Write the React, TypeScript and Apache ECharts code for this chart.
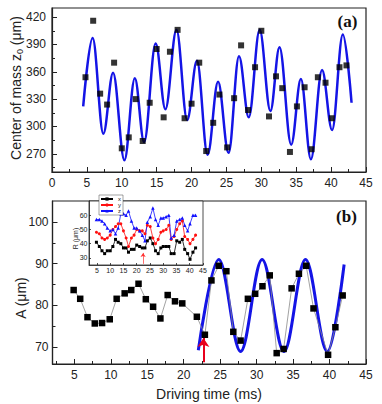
import React, { useEffect, useRef } from "react";
import * as echarts from "echarts";

// Panel (a): centre of mass z0 (µm) vs driving time (ms)
const topT = [4.8, 5.9, 6.9, 7.9, 8.9, 10.0, 11.0, 12.0, 13.0, 14.0, 15.0, 16.0, 16.9, 18.0, 19.0, 20.0, 21.1, 22.1, 23.1, 24.0, 25.1, 26.1, 27.1, 28.1, 29.1, 30.0, 31.1, 32.1, 33.0, 34.1, 35.1, 36.2, 37.2, 38.1, 39.2, 40.1, 41.2, 42.2];
const topZ = [354, 416, 336, 324, 370, 276, 288, 330, 284, 326, 385, 310, 382, 406, 309, 325, 370, 273, 304, 335, 277, 331, 389, 318, 365, 405, 311, 355, 342, 272, 322, 343, 275, 354, 348, 309, 365, 367];
// fitted curve (a): extremes
const fitTopT = [4.47, 5.82, 7.36, 8.75, 10.38, 11.87, 13.2, 14.86, 16.25, 17.84, 19.37, 20.77, 22.3, 23.8, 25.3, 26.8, 28.2, 29.76, 31.3, 32.6, 34.28, 35.67, 37.1, 38.7, 40.14, 41.68, 42.93];
const fitTopZ = [322, 397, 292, 359, 263, 353, 283, 391, 319, 406, 307, 372, 269, 349, 271, 377, 310, 406, 317, 387, 280, 352, 264, 362, 296, 401, 326];

// Panel (b): amplitude A (µm)
const botT = [4.9, 5.8, 6.8, 7.8, 8.8, 9.85, 10.8, 11.9, 12.8, 13.8, 14.8, 15.8, 16.8, 17.8, 18.8, 19.8, 21.8, 22.9, 23.8, 24.8, 25.85, 26.8, 27.8, 28.8, 29.8, 30.8, 31.8, 32.75, 33.7, 34.8, 35.8, 36.8, 37.8, 39.8, 40.8, 41.8];
const botA = [83.7, 81.6, 77.2, 75.7, 75.8, 76.7, 81.6, 82.9, 83.7, 85.2, 81.5, 79.7, 76.9, 82.5, 81.0, 80.5, 77.3, 73.0, 86.0, 89.5, 88.2, 73.7, 71.6, 81.6, 82.8, 84.6, 87.2, 68.6, 69.6, 84.1, 87.6, 89.5, 79.3, 68.2, 74.8, 82.4];
// fitted curve (b): extremes
const fitBotT = [22.0, 24.8, 27.8, 30.75, 33.75, 36.7, 39.7, 42.0];
const fitBotA = [69.3, 91.0, 69.0, 91.0, 69.0, 91.0, 69.0, 89.8];

// Inset: R (µm) for x, y, z
const inT = [4.8, 5.9, 6.9, 7.9, 8.9, 10.0, 11.0, 12.0, 13.0, 14.0, 15.0, 16.0, 16.9, 18.0, 19.0, 20.0, 21.1, 22.1, 23.1, 24.0, 25.1, 26.1, 27.1, 28.1, 29.1, 30.0, 31.1, 32.1, 33.0, 34.1, 35.1, 36.2, 37.2, 38.1, 39.2, 40.1, 41.2, 42.2];
const inX = [41, 38, 35, 33, 35, 35, 38, 43, 41, 40, 37, 37, 34, 36, 36, 39, 38, 37, 37, 42, 44, 40, 35, 33, 37, 38, 38, 38, 33, 33, 42, 41, 43, 36, 33, 29, 34, 37];
const inY = [48, 47, 44, 43, 44, 46, 50, 52, 54, 54, 49, 44, 38, 44, 46, 50, 49, 49, 47, 53, 52, 44, 40, 43, 48, 49, 50, 53, 43, 45, 50, 54, 56, 45, 43, 40, 43, 46];
const inZ = [57, 57, 56, 54, 51, 49, 50, 47, 51, 61, 61, 60, 63, 56, 51, 51, 49, 46, 42, 55, 59, 65, 57, 53, 58, 58, 59, 60, 44, 46, 56, 57, 58, 53, 49, 54, 60, 60];

// tick labels
const topYMajor = [270, 300, 330, 360, 390, 420];
const topYMinor = [255, 285, 315, 345, 375, 405];
const botXMajor = [5, 10, 15, 20, 25, 30, 35, 40, 45];
const botXMinor = [2.5, 7.5, 12.5, 17.5, 22.5, 27.5, 32.5, 37.5, 42.5];
const botYMajor = [70, 80, 90, 100];
const botYMinor = [75, 85, 95];
const inYMajor = [30, 40, 50, 60];

const zip = (a: number[], b: number[]) => a.map((v, i) => [v, b[i]]);

const FONT = "'Liberation Sans', Arial, sans-serif";
const AX = "#222";

export default function App() {
  const ref = useRef<HTMLDivElement>(null);
  useEffect(() => {
    if (!ref.current) return;
    const chart = echarts.init(ref.current, undefined, { renderer: "svg" });
    const axisLine = { show: true, onZero: false, lineStyle: { color: AX, width: 1.2 } };
    const lbl = { color: "#222", fontSize: 12, fontFamily: FONT };
    chart.setOption({
      animation: false,
      backgroundColor: "#fff",
      grid: [
        { left: 52, top: 8, width: 314, height: 164, show: true, borderColor: AX, borderWidth: 1.2 },
        { left: 52.5, top: 201, width: 313.5, height: 163, show: true, borderColor: AX, borderWidth: 1.2 },
        { left: 89, top: 201, width: 114, height: 64, show: true, borderColor: AX, borderWidth: 0.8, backgroundColor: "#fff" },
      ],
      xAxis: [
        {
          gridIndex: 0, type: "value", min: 0, max: 45, interval: 5, position: "bottom",
          axisLine, splitLine: { show: false },
          axisTick: { inside: true, length: 5, lineStyle: { color: AX } },
          minorTick: { show: true, splitNumber: 2, length: 3, lineStyle: { color: AX } },
          axisLabel: { ...lbl, margin: 5 },
        },
        {
          gridIndex: 1, type: "value", min: 2, max: 45, position: "bottom",
          axisLine, splitLine: { show: false },
          axisTick: { inside: true, length: 5, customValues: botXMajor, lineStyle: { color: AX } },
          axisLabel: { ...lbl, margin: 5, customValues: botXMajor },
        },
        {
          gridIndex: 1, type: "value", min: 2, max: 45, position: "bottom",
          axisLine: { show: false }, splitLine: { show: false },
          axisTick: { inside: true, length: 3, customValues: botXMinor, lineStyle: { color: AX } },
          axisLabel: { show: false },
        },
        {
          gridIndex: 2, type: "value", min: 2, max: 45, position: "bottom",
          axisLine: { show: true, onZero: false, lineStyle: { color: AX, width: 0.8 } }, splitLine: { show: false },
          axisTick: { inside: true, length: 2, customValues: botXMajor, lineStyle: { color: AX, width: 0.8 } },
          axisLabel: { color: "#222", fontSize: 7, fontFamily: FONT, margin: 2, customValues: botXMajor },
        },
      ],
      yAxis: [
        {
          gridIndex: 0, type: "value", min: 250, max: 430, position: "left",
          axisLine, splitLine: { show: false },
          axisTick: { inside: true, length: 5, customValues: topYMajor, lineStyle: { color: AX } },
          axisLabel: { ...lbl, margin: 6, customValues: topYMajor },
        },
        {
          gridIndex: 0, type: "value", min: 250, max: 430, position: "left",
          axisLine: { show: false }, splitLine: { show: false },
          axisTick: { inside: true, length: 3, customValues: topYMinor, lineStyle: { color: AX } },
          axisLabel: { show: false },
        },
        {
          gridIndex: 1, type: "value", min: 66, max: 105, position: "left",
          axisLine, splitLine: { show: false },
          axisTick: { inside: true, length: 5, customValues: botYMajor, lineStyle: { color: AX } },
          axisLabel: { ...lbl, margin: 4, customValues: botYMajor },
        },
        {
          gridIndex: 1, type: "value", min: 66, max: 105, position: "left",
          axisLine: { show: false }, splitLine: { show: false },
          axisTick: { inside: true, length: 3, customValues: botYMinor, lineStyle: { color: AX } },
          axisLabel: { show: false },
        },
        {
          gridIndex: 2, type: "value", min: 25, max: 70, position: "left",
          axisLine: { show: true, onZero: false, lineStyle: { color: AX, width: 0.8 } }, splitLine: { show: false },
          axisTick: { inside: true, length: 2, customValues: inYMajor, lineStyle: { color: AX, width: 0.8 } },
          axisLabel: { color: "#222", fontSize: 7, fontFamily: FONT, margin: 1.5, customValues: inYMajor },
        },
      ],
      legend: {
        data: ["x", "y", "z"],
        orient: "vertical",
        left: 99,
        top: 195,
        padding: [1, 2, 1, 1],
        itemGap: 0,
        itemWidth: 12,
        itemHeight: 4,
        backgroundColor: "#fff",
        borderColor: "#444",
        borderWidth: 0.5,
        textStyle: { fontSize: 6, fontFamily: FONT, color: "#222" },
      },
      series: [
        {
          type: "line", xAxisIndex: 0, yAxisIndex: 0, data: zip(fitTopT, fitTopZ),
          showSymbol: false, smooth: 0.36, smoothMonotone: "x",
          lineStyle: { color: "#1414e6", width: 2.5 }, z: 2,
        },
        {
          type: "scatter", xAxisIndex: 0, yAxisIndex: 0, data: zip(topT, topZ),
          symbol: "rect", symbolSize: 6, itemStyle: { color: "#000" }, z: 3,
        },
        {
          type: "line", xAxisIndex: 1, yAxisIndex: 2, data: zip(fitBotT, fitBotA),
          showSymbol: false, smooth: 0.36, smoothMonotone: "x",
          lineStyle: { color: "#1414e6", width: 3 }, z: 2,
        },
        {
          type: "line", xAxisIndex: 1, yAxisIndex: 2, data: zip(botT, botA),
          symbol: "rect", symbolSize: 6.5, showAllSymbol: true,
          lineStyle: { color: "#8a8a8a", width: 0.8 }, itemStyle: { color: "#000" }, z: 3,
          markLine: {
            silent: true, symbol: ["none", "arrow"], symbolSize: 9,
            lineStyle: { color: "#e8001c", width: 2, type: "solid" }, label: { show: false },
            data: [[{ coord: [22.7, 66.4] }, { coord: [22.7, 72.2] }]],
          },
        },
        {
          name: "x", type: "line", xAxisIndex: 3, yAxisIndex: 4, data: zip(inT, inX),
          symbol: "rect", symbolSize: 3, lineStyle: { color: "#000", width: 0.8 }, itemStyle: { color: "#000" },
          markLine: {
            silent: true, symbol: ["none", "arrow"], symbolSize: 4,
            lineStyle: { color: "#ff3030", width: 0.7, type: "solid" }, label: { show: false },
            data: [[{ coord: [22.4, 25.8] }, { coord: [22.4, 33.5] }]],
          },
        },
        {
          name: "y", type: "line", xAxisIndex: 3, yAxisIndex: 4, data: zip(inT, inY),
          symbol: "circle", symbolSize: 3, lineStyle: { color: "#ff1010", width: 0.8 }, itemStyle: { color: "#ff1010" },
        },
        {
          name: "z", type: "line", xAxisIndex: 3, yAxisIndex: 4, data: zip(inT, inZ),
          symbol: "triangle", symbolSize: 3.5, lineStyle: { color: "#1010ff", width: 0.8 }, itemStyle: { color: "#1010ff" },
        },
      ],
      graphic: [
        {
          type: "text", x: 15.5, y: 88, rotation: Math.PI / 2,
          style: {
            text: "Center of mass z{s|0} (μm)",
            font: `14px ${FONT}`, fill: "#222", textAlign: "center", textVerticalAlign: "middle",
            rich: { s: { fontSize: 9, fontFamily: FONT, fill: "#222", padding: [8, 0, 0, 0] } },
          },
        },
        {
          type: "text", x: 21, y: 298, rotation: Math.PI / 2,
          style: { text: "A (μm)", font: `14px ${FONT}`, fill: "#222", textAlign: "center", textVerticalAlign: "middle" },
        },
        {
          type: "text", x: 75.5, y: 238.5, rotation: Math.PI / 2,
          style: { text: "R (μm)", font: `7px ${FONT}`, fill: "#222", textAlign: "center", textVerticalAlign: "middle" },
        },
        {
          type: "text", x: 209, y: 394,
          style: { text: "Driving time (ms)", font: `14px ${FONT}`, fill: "#222", textAlign: "center", textVerticalAlign: "middle" },
        },
        {
          type: "text", x: 347.5, y: 21,
          style: { text: "(a)", font: `bold 17px 'Liberation Serif', serif`, fill: "#111", textAlign: "center", textVerticalAlign: "middle" },
        },
        {
          type: "text", x: 346.5, y: 216,
          style: { text: "(b)", font: `bold 17px 'Liberation Serif', serif`, fill: "#111", textAlign: "center", textVerticalAlign: "middle" },
        },
      ],
    });
    return () => chart.dispose();
  }, []);
  return <div ref={ref} style={{ position: "fixed", left: 0, top: 0, width: 382, height: 404 }} />;
}
